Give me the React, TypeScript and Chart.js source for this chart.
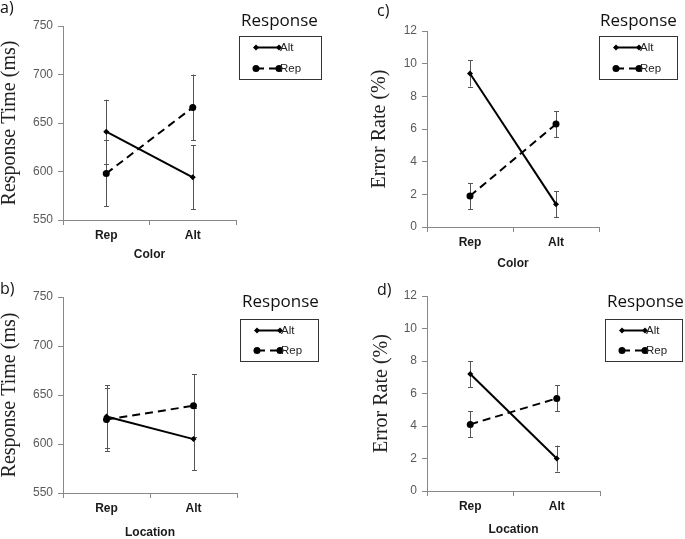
import React, { useEffect, useRef } from 'react';
import { Chart, registerables } from 'chart.js';
Chart.register(...registerables);

const categories = ['Rep', 'Alt'];
const seriesLabels = ['Alt', 'Rep'];

// a) Color – response time
const rtColorAlt = [641, 594];
const rtColorAltErr = [33, 33];
const rtColorRep = [598, 666];
const rtColorRepErr = [34, 34];

// b) Location – response time
const rtLocationAlt = [628, 605];
const rtLocationAltErr = [32, 32];
const rtLocationRep = [625, 639];
const rtLocationRepErr = [32, 32];

// c) Color – error rate
const erColorAlt = [9.4, 1.4];
const erColorAltErr = [0.8, 0.8];
const erColorRep = [1.9, 6.3];
const erColorRepErr = [0.8, 0.8];

// d) Location – error rate
const erLocationAlt = [7.2, 2.0];
const erLocationAltErr = [0.8, 0.8];
const erLocationRep = [4.1, 5.7];
const erLocationRepErr = [0.8, 0.8];

const rtTicks = [550, 600, 650, 700, 750];
const erTicks = [0, 2, 4, 6, 8, 10, 12];

type PanelCfg = {
  key: string;
  left: number; top: number; width: number; height: number;
  padLeft: number; yWidth: number; padTop: number; padRight: number; xHeight: number; xTitlePad: number;
  alt: number[]; altErr: number[]; rep: number[]; repErr: number[];
  ticks: number[];
  yTitle: string; xTitle: string;
  legend: { x: number; y: number; w: number; h: number; titleX: number; titleY: number; titleSize: number; rows: number[] };
  label: { text: string; x: number; y: number };
};

const panels: PanelCfg[] = [
  {
    key: 'a', left: 0, top: 0, width: 340, height: 270,
    padLeft: 0, yWidth: 63, padTop: 26, padRight: 104, xHeight: 50, xTitlePad: 9,
    alt: rtColorAlt, altErr: rtColorAltErr, rep: rtColorRep, repErr: rtColorRepErr,
    ticks: rtTicks, yTitle: 'Response Time (ms)', xTitle: 'Color',
    legend: { x: 239, y: 36, w: 82, h: 43, titleX: 241, titleY: 26, titleSize: 17, rows: [11, 32] },
    label: { text: 'a)', x: 0, y: 13 },
  },
  {
    key: 'b', left: 0, top: 270, width: 340, height: 269,
    padLeft: 0, yWidth: 63, padTop: 27, padRight: 103, xHeight: 46, xTitlePad: 0,
    alt: rtLocationAlt, altErr: rtLocationAltErr, rep: rtLocationRep, repErr: rtLocationRepErr,
    ticks: rtTicks, yTitle: 'Response Time (ms)', xTitle: 'Location',
    legend: { x: 240, y: 49, w: 78, h: 42, titleX: 242, titleY: 37, titleSize: 17, rows: [11, 31] },
    label: { text: 'b)', x: 0, y: 24 },
  },
  {
    key: 'c', left: 340, top: 0, width: 345, height: 270,
    padLeft: 30, yWidth: 57, padTop: 31, padRight: 86, xHeight: 43, xTitlePad: 0,
    alt: erColorAlt, altErr: erColorAltErr, rep: erColorRep, repErr: erColorRepErr,
    ticks: erTicks, yTitle: 'Error Rate (%)', xTitle: 'Color',
    legend: { x: 259, y: 36, w: 78, h: 43, titleX: 260, titleY: 26, titleSize: 17, rows: [11, 32] },
    label: { text: 'c)', x: 37, y: 16 },
  },
  {
    key: 'd', left: 340, top: 270, width: 345, height: 269,
    padLeft: 32, yWidth: 55, padTop: 26, padRight: 85, xHeight: 48, xTitlePad: 3,
    alt: erLocationAlt, altErr: erLocationAltErr, rep: erLocationRep, repErr: erLocationRepErr,
    ticks: erTicks, yTitle: 'Error Rate (%)', xTitle: 'Location',
    legend: { x: 265, y: 49, w: 77, h: 42, titleX: 267, titleY: 37, titleSize: 17, rows: [11, 31] },
    label: { text: 'd)', x: 37, y: 25 },
  },
];

const errorBarPlugin = {
  id: 'errorBars',
  beforeDatasetsDraw(chart: any) {
    const ctx = chart.ctx;
    const yScale = chart.scales.y;
    ctx.save();
    ctx.strokeStyle = '#555';
    ctx.lineWidth = 1;
    chart.data.datasets.forEach((ds: any, di: number) => {
      const meta = chart.getDatasetMeta(di);
      ds.data.forEach((v: number, i: number) => {
        const e = ds.errors[i];
        const x = Math.round(meta.data[i].x) + 0.5;
        const yt = yScale.getPixelForValue(v + e);
        const yb = yScale.getPixelForValue(v - e);
        ctx.beginPath();
        ctx.moveTo(x, yt); ctx.lineTo(x, yb);
        ctx.moveTo(x - 2.5, Math.round(yt) + 0.5); ctx.lineTo(x + 2.5, Math.round(yt) + 0.5);
        ctx.moveTo(x - 2.5, Math.round(yb) + 0.5); ctx.lineTo(x + 2.5, Math.round(yb) + 0.5);
        ctx.stroke();
      });
    });
    ctx.restore();
  },
};

function drawMarker(ctx: CanvasRenderingContext2D, style: string, x: number, y: number, r: number) {
  ctx.beginPath();
  if (style === 'circle') {
    ctx.arc(x, y, r, 0, Math.PI * 2);
  } else {
    ctx.moveTo(x, y - r); ctx.lineTo(x + r, y); ctx.lineTo(x, y + r); ctx.lineTo(x - r, y); ctx.closePath();
  }
  ctx.fill();
}

const panelLegendPlugin = {
  id: 'panelLegend',
  afterDraw(chart: any, _args: any, opts: any) {
    const ctx: CanvasRenderingContext2D = chart.ctx;
    const lg = opts.legend;
    ctx.save();
    ctx.fillStyle = '#111';
    ctx.textAlign = 'left';
    ctx.textBaseline = 'alphabetic';
    ctx.font = `${lg.titleSize}px "Open Sans"`;
    ctx.fillText('Response', lg.titleX, lg.titleY);
    ctx.font = '16px "Open Sans"';
    ctx.fillText(opts.label.text, opts.label.x, opts.label.y);
    ctx.strokeStyle = '#333';
    ctx.lineWidth = 1;
    ctx.strokeRect(lg.x + 0.5, lg.y + 0.5, lg.w, lg.h);
    chart.data.datasets.forEach((ds: any, i: number) => {
      const y = lg.y + lg.rows[i] + 0.5;
      const x0 = lg.x + 17, x1 = lg.x + 40;
      ctx.strokeStyle = ds.borderColor;
      ctx.fillStyle = ds.borderColor;
      ctx.lineWidth = ds.borderWidth;
      ctx.setLineDash(ds.borderDash || []);
      ctx.beginPath(); ctx.moveTo(x0, y); ctx.lineTo(x1, y); ctx.stroke();
      ctx.setLineDash([]);
      drawMarker(ctx, ds.pointStyle, x0, y, ds.pointRadius);
      drawMarker(ctx, ds.pointStyle, x1, y, ds.pointRadius);
      ctx.fillStyle = '#222';
      ctx.font = '11.5px "Liberation Sans"';
      ctx.textBaseline = 'middle';
      ctx.fillText(seriesLabels[i], x1 + 1, y);
    });
    ctx.restore();
  },
};

function Panel({ cfg }: { cfg: PanelCfg }) {
  const ref = useRef<HTMLCanvasElement>(null);
  useEffect(() => {
    if (!ref.current) return;
    const chart = new Chart(ref.current, {
      type: 'line',
      data: {
        labels: categories,
        datasets: [
          {
            label: seriesLabels[0], data: cfg.alt, errors: cfg.altErr,
            borderColor: '#000', backgroundColor: '#000', borderWidth: 2,
            pointStyle: 'rectRot', pointRadius: 3, pointBackgroundColor: '#000', pointBorderWidth: 0,
          } as any,
          {
            label: seriesLabels[1], data: cfg.rep, errors: cfg.repErr,
            borderColor: '#000', backgroundColor: '#000', borderWidth: 2, borderDash: [8, 5],
            pointStyle: 'circle', pointRadius: 3.5, pointBackgroundColor: '#000', pointBorderWidth: 0,
          } as any,
        ],
      },
      options: {
        responsive: false,
        animation: false,
        layout: { padding: { left: cfg.padLeft, top: cfg.padTop, right: cfg.padRight, bottom: 0 } },
        plugins: {
          legend: { display: false },
          tooltip: { enabled: false },
          panelLegend: { legend: cfg.legend, label: cfg.label },
        } as any,
        scales: {
          x: {
            offset: true,
            grid: { offset: true, drawOnChartArea: false, drawTicks: true, tickLength: 5, color: '#888' },
            border: { display: true, color: '#888', width: 1 },
            ticks: { padding: 3, color: '#1a1a1a', font: { family: '"Liberation Sans"', size: 12, weight: 'bold' }, maxRotation: 0 },
            title: {
              display: true, text: cfg.xTitle, color: '#1a1a1a',
              font: { family: '"Liberation Sans"', size: 12, weight: 'bold', lineHeight: 1 },
              padding: { top: 0, bottom: cfg.xTitlePad },
            },
            afterFit: (s: any) => { s.height = cfg.xHeight; },
          },
          y: {
            min: cfg.ticks[0], max: cfg.ticks[cfg.ticks.length - 1],
            grid: { drawOnChartArea: false, drawTicks: true, tickLength: 5, color: '#888' },
            border: { display: true, color: '#888', width: 1 },
            ticks: { stepSize: cfg.ticks[1] - cfg.ticks[0], padding: 5, color: '#595959', font: { family: '"Liberation Sans"', size: 12 } },
            title: {
              display: true, text: cfg.yTitle, color: '#222',
              font: { family: '"Liberation Serif"', size: 20, lineHeight: 1 },
              padding: { top: 0, bottom: 0 },
            },
            afterFit: (s: any) => { s.width = cfg.yWidth; },
          },
        } as any,
      },
      plugins: [errorBarPlugin, panelLegendPlugin],
    } as any);
    return () => chart.destroy();
  }, [cfg]);
  return (
    <canvas
      ref={ref}
      width={cfg.width}
      height={cfg.height}
      style={{ position: 'absolute', left: cfg.left, top: cfg.top, width: cfg.width, height: cfg.height }}
    />
  );
}

export default function App() {
  return (
    <div style={{ position: 'fixed', left: 0, top: 0, width: 685, height: 539, background: '#fff', overflow: 'hidden' }}>
      {panels.map((p) => (
        <Panel key={p.key} cfg={p} />
      ))}
    </div>
  );
}
